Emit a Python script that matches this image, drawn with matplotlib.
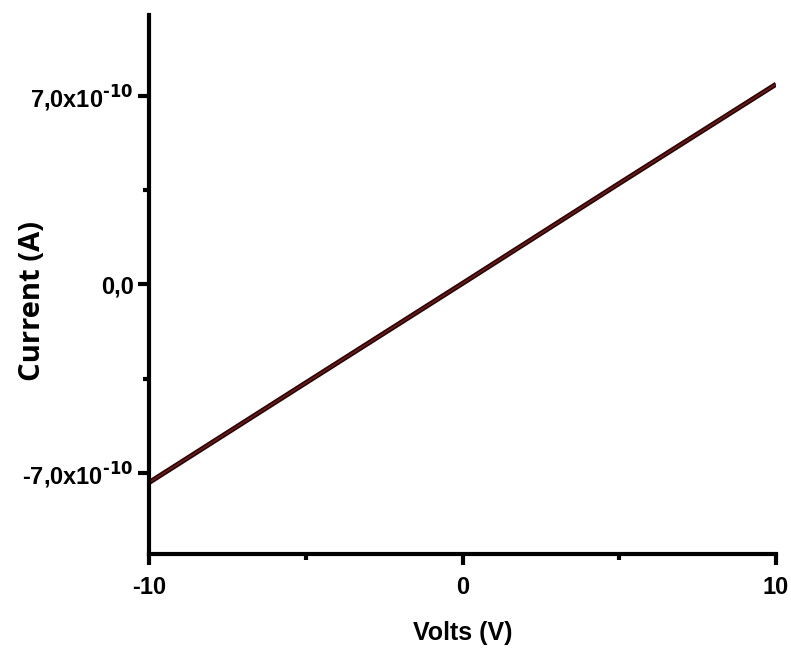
import numpy as np
import matplotlib
matplotlib.use('Agg')
import matplotlib.pyplot as plt
from matplotlib.ticker import FixedLocator

# data
volts = [-10, -5, 0, 5, 10]
current = [-7.35e-10, -3.65e-10, 0.04e-10, 3.75e-10, 7.43e-10]

xticks = [-10, 0, 10]
xtick_labels = ['-10', '0', '10']
xminor = [-5, 5]
yticks = [-7e-10, 0, 7e-10]
ytick_labels = [r'-7,0x10$^{\text{-10}}$', '0,0', r'7,0x10$^{\text{-10}}$']
yminor = [-3.5e-10, 3.5e-10]

plt.rcParams['font.family'] = ['Liberation Sans Narrow', 'Liberation Sans', 'DejaVu Sans']
plt.rcParams['font.weight'] = 'bold'
plt.rcParams['mathtext.fontset'] = 'custom'
plt.rcParams['mathtext.rm'] = 'Liberation Sans Narrow:bold'
plt.rcParams['mathtext.it'] = 'Liberation Sans Narrow:bold'
plt.rcParams['mathtext.bf'] = 'Liberation Sans Narrow:bold'

fig = plt.figure(figsize=(7.91, 6.5), dpi=100)
ax = fig.add_axes([0.1884, 0.1477, 0.7927, 0.8293])

# Origin-style dark red line with black core
ax.plot(volts, current, color='#2a0505', lw=3.6, solid_capstyle='butt')
ax.plot(volts, current, color='#6a1a1a', lw=1.2, solid_capstyle='butt')

ax.set_xlim(-10, 10)
ax.set_ylim(-1e-9, 1e-9)

ax.set_xticks(xticks)
ax.set_xticklabels(xtick_labels)
ax.set_yticks(yticks)
ax.set_yticklabels(ytick_labels)
ax.xaxis.set_minor_locator(FixedLocator(xminor))
ax.yaxis.set_minor_locator(FixedLocator(yminor))

for s in ['top', 'right']:
    ax.spines[s].set_visible(False)
for s in ['left', 'bottom']:
    ax.spines[s].set_linewidth(3)
    ax.spines[s].set_color('black')

ax.tick_params(which='major', direction='out', length=8, width=3, labelsize=17)
ax.tick_params(which='minor', direction='out', length=4, width=3)
ax.tick_params(axis='y', which='major', pad=3)
ax.tick_params(axis='x', which='major', pad=8)

ax.set_xlabel('Volts (V)', fontsize=18, fontweight='bold',
              family=['Liberation Sans', 'DejaVu Sans'])
ax.xaxis.set_label_coords(0.5, -0.125)
ax.set_ylabel('Current (A)', fontsize=21, fontweight='bold',
              family=['Open Sans', 'DejaVu Sans'])
ax.yaxis.set_label_coords(-0.163, 0.469)

fig.savefig('out.png', dpi=100)
